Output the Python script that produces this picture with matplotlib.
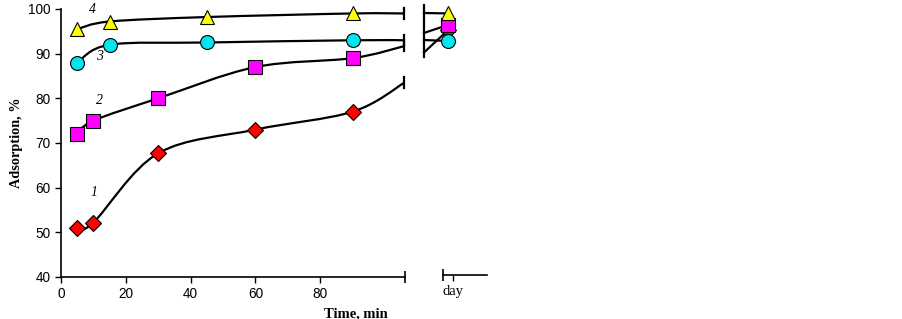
import matplotlib
matplotlib.use("Agg")
import matplotlib.pyplot as plt
from matplotlib.path import Path
from matplotlib.patches import PathPatch

# data
t1 = [5, 10, 30, 60, 90, 106]
y1 = [51, 52.2, 67.7, 73, 77, 83.5]
t2 = [5, 10, 30, 60, 90, 106]
y2 = [72, 75, 80, 87, 89, 91.7]
t3 = [5, 15, 45, 90, 106]
y3 = [88, 92, 92.5, 93, 93]
t4 = [5, 15, 45, 90, 106]
y4 = [95.5, 97.2, 98.2, 99, 99]
day_vals = [95.2, 96.4, 92.8, 99.0]      # curves 1..4 after one day
day_start = [90.2, 94.6, 93.0, 99.1]     # where the day-panel lines leave the break
labels = ["1", "2", "3", "4"]
label_pos = [(10.2, 59), (12, 79.6), (12, 89.3), (9.6, 99.8)]

styles = [("D", "#ff0000", 8), ("s", "#ff00ff", 9.5), ("o", "#00e5ee", 10), ("^", "#ffff00", 10.5)]

def smooth(ax, xs, ys):
    # Excel-like smoothed line: Catmull-Rom as cubic Bezier segments
    pts = list(zip(xs, ys))
    verts = [pts[0]]
    codes = [Path.MOVETO]
    n = len(pts)
    for i in range(n - 1):
        p0 = pts[max(i - 1, 0)]
        p1 = pts[i]
        p2 = pts[i + 1]
        p3 = pts[min(i + 2, n - 1)]
        c1 = (p1[0] + (p2[0] - p0[0]) / 6, p1[1] + (p2[1] - p0[1]) / 6)
        c2 = (p2[0] - (p3[0] - p1[0]) / 6, p2[1] - (p3[1] - p1[1]) / 6)
        verts += [c1, c2, p2]
        codes += [Path.CURVE4] * 3
    ax.add_patch(PathPatch(Path(verts, codes), fc="none", ec="black", lw=1.6, clip_on=False, zorder=2))

fig = plt.figure(figsize=(9.03, 3.19), dpi=100)
ax = fig.add_axes([61 / 903, 42 / 319, 344 / 903, 268 / 319])
ax2 = fig.add_axes([424 / 903, 44 / 319, 63 / 903, 266 / 319])

ax.set_xlim(0, 106.2)
ax.set_ylim(40, 100)
for xs, ys, (m, c, ms) in zip([t1, t2, t3, t4], [y1, y2, y3, y4], styles):
    smooth(ax, xs, ys)
    ax.plot(xs[:-1], ys[:-1], ls="none", marker=m, mfc=c, mec="black", mew=0.8, ms=ms, zorder=3, clip_on=False)
    # break cap at the end of each curve
    ax.plot([xs[-1], xs[-1]], [ys[-1] - 1.2, ys[-1] + 1.2], color="black", lw=1.6, clip_on=False)

for lab, (lx, ly) in zip(labels, label_pos):
    ax.text(lx, ly, lab, fontsize=10, style="italic", family="Liberation Serif", ha="center", va="center")

ax.spines["top"].set_visible(False)
ax.spines["right"].set_visible(False)
ax.set_xticks([0, 20, 40, 60, 80])
ax.set_yticks([40, 50, 60, 70, 80, 90, 100])
ax.set_xticks([106.2], minor=True)
ax.tick_params(axis="both", labelsize=9.8, length=4, width=1, direction="out")
ax.tick_params(axis="x", which="minor", direction="inout", length=8, width=1.2)
for lab in ax.get_xticklabels() + ax.get_yticklabels():
    lab.set_family("Liberation Sans")
ax.set_ylabel("Adsorption, %", fontsize=10.3, fontweight="bold", family="Liberation Serif", labelpad=4)
ax.text(0.951, -0.115, "Time, min", transform=ax.transAxes, ha="right", va="top",
        fontsize=10.5, fontweight="bold", family="Liberation Serif")
for sp in ax.spines.values():
    sp.set_linewidth(1.2)

# day panel
ax2.set_xlim(0, 1)
ax2.set_ylim(40, 100)
for sp in ["top", "right", "left"]:
    ax2.spines[sp].set_visible(False)
ax2.spines["bottom"].set_bounds(0.30, 1)
ax2.spines["bottom"].set_linewidth(1.2)
ax2.set_yticks([])
ax2.set_xticks([0.46])
ax2.set_xticklabels(["day"], family="Liberation Serif", fontsize=10.5)
ax2.set_xticks([0.30], minor=True)
ax2.tick_params(axis="x", length=4, width=1)
ax2.tick_params(axis="x", which="minor", direction="inout", length=8, width=1.2)
ax2.plot([0, 0], [89.2, 100.8], color="black", lw=1.6, clip_on=False)
for s0, v in zip(day_start, day_vals):
    ax2.plot([0, 0.38], [s0, v], color="black", lw=1.6, clip_on=False, zorder=2)
for v, (m, c, ms) in zip(day_vals, styles):
    ax2.plot([0.38], [v], ls="none", marker=m, mfc=c, mec="black", mew=0.8, ms=ms, zorder=3, clip_on=False)

fig.savefig("out.png", dpi=100)
